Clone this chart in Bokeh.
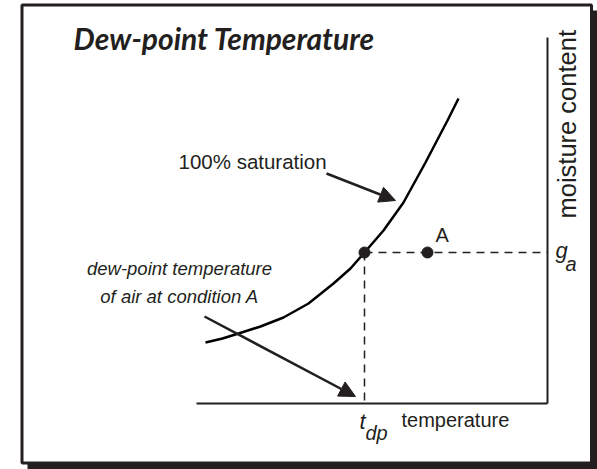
from math import pi
from bokeh.plotting import figure
from bokeh.models import Range1d, Arrow, NormalHead
from bokeh.core.properties import value
from bokeh.embed import file_html
from bokeh.resources import INLINE

H = 469
INK = "#231f20"
SANS = value("Liberation Sans")
K = 0.4  # baseline compensation (fraction of font size)

# saturation curve (temperature, moisture content) in diagram units
sat_temp = [205, 222, 238, 260, 283, 308, 333, 350, 364, 383, 403, 425, 447, 458]
sat_moist = [127, 131, 136, 143, 152, 166, 186, 201, 217, 239, 267, 307, 349, 371]

# state points
t_dp = 364
t_A = 427
g_a = 217

# axes extents
t_min, t_max = 196, 547
g_min, g_max = 66, 432

p = figure(width=597, height=469, output_backend="svg", toolbar_location=None,
           x_range=Range1d(0, 597), y_range=Range1d(0, 469), min_border=0,
           outline_line_color=None, background_fill_color="white",
           border_fill_color="white")
p.axis.visible = False
p.xaxis.visible = False
p.yaxis.visible = False
p.grid.visible = False

# frame with shadow
p.quad(left=[27], right=[600], bottom=[-3], top=[459], fill_color=INK, line_color=None)
p.quad(left=[21.5], right=[591], bottom=[6.5], top=[464.5], fill_color="white",
       line_color=INK, line_width=3)

# axes lines
p.line([t_min, t_max], [g_min, g_min], line_color=INK, line_width=2)
p.line([t_max, t_max], [g_min, g_max], line_color=INK, line_width=2)

# dashed guides
p.line([t_dp, t_max], [g_a, g_a], line_color=INK, line_width=1.5, line_dash="8 6")
p.line([t_dp, t_dp], [g_a, g_min], line_color=INK, line_width=1.5, line_dash="8 6")

# saturation curve
p.line(sat_temp, sat_moist, line_color="black", line_width=2.5)

# points
p.scatter([t_dp, t_A], [g_a, g_a], size=11, fill_color=INK, line_color=INK)

# arrows
p.add_layout(Arrow(x_start=326, y_start=H - 173, x_end=395, y_end=H - 200,
                   line_color=INK, line_width=2.5,
                   end=NormalHead(size=16, fill_color=INK, line_color=INK)))
p.add_layout(Arrow(x_start=204, y_start=H - 316, x_end=355, y_end=H - 396,
                   line_color=INK, line_width=2.5,
                   end=NormalHead(size=16, fill_color=INK, line_color=INK)))


def label(x, base, txt, size, font=SANS, style="normal", align="left"):
    p.text(x=[x], y=[H - base + K * size], text=[txt], text_font=font,
           text_font_style=style, text_font_size=f"{size}px", text_color=INK,
           text_baseline="alphabetic", text_align=align)


label(73, 49, "Dew-point Temperature", 30, font=value("Lato"), style="bold italic")
label(178, 169, "100% saturation", 20.5)
label(179, 275, "dew-point temperature", 18.5, style="italic", align="center")
label(179, 303, "of air at condition A", 18.5, style="italic", align="center")
label(435, 242, "A", 20)
label(555, 259, "g", 22, style="italic")
label(565, 271, "a", 20, style="italic")
label(359, 430, "t", 22, style="italic")
label(365, 440, "dp", 20, style="italic")
label(401, 427, "temperature", 20)

p.text(x=[577 - K * 25.5], y=[H - 218], text=["moisture content"], text_font=SANS,
       text_font_size="25.5px", text_color=INK, text_baseline="alphabetic", angle=pi / 2)

open("out.html", "w").write(file_html(p, INLINE))
